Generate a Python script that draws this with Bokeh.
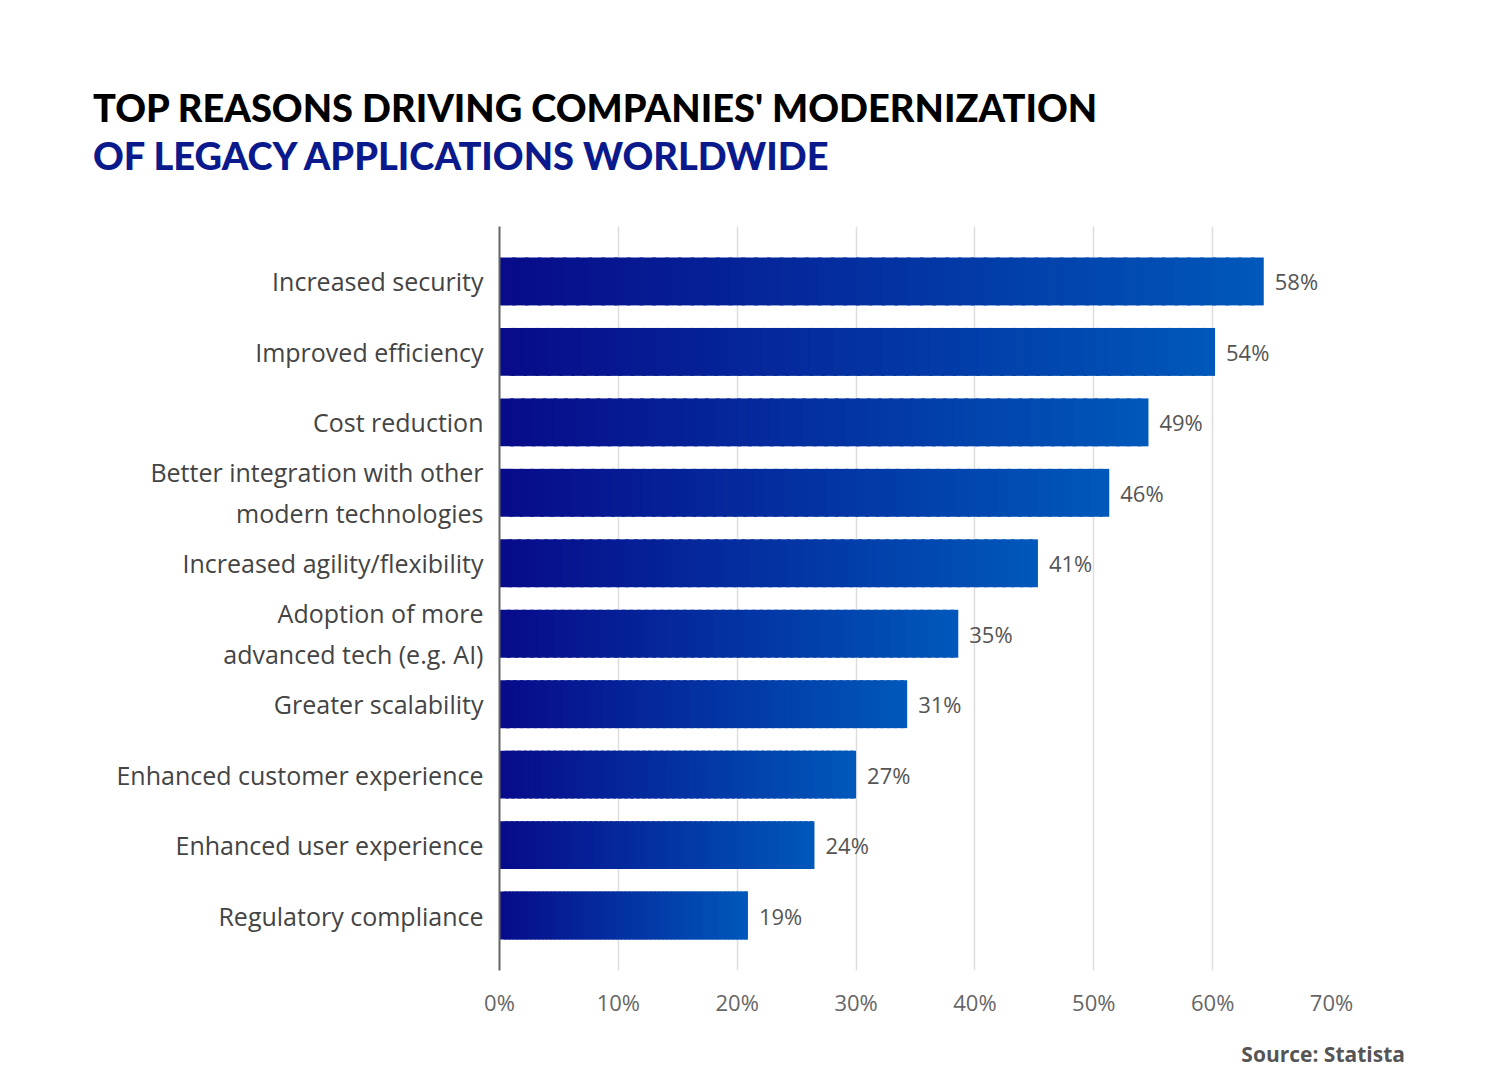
import numpy as np
from bokeh.plotting import figure
from bokeh.models import FixedTicker, Range1d, Div
from bokeh.layouts import column
from bokeh.core.properties import value
from bokeh.embed import file_html
from bokeh.resources import INLINE

categories = ["Increased security", "Improved efficiency", "Cost reduction",
              "Better integration with other\nmodern technologies", "Increased agility/flexibility",
              "Adoption of more\nadvanced tech (e.g. AI)", "Greater scalability",
              "Enhanced customer experience", "Enhanced user experience", "Regulatory compliance"]
label_values = [58, 54, 49, 46, 41, 35, 31, 27, 24, 19]
# bar lengths as drawn against the axis in the picture
bar_lengths = [64.3, 60.2, 54.6, 51.3, 45.3, 38.6, 34.3, 30.0, 26.5, 20.9]
x_ticks = [0, 10, 20, 30, 40, 50, 60, 70]

W = 1484
title = Div(width=W, height=160, text=(
    "<div style='padding-left:88px;padding-top:78px;font-family:Lato;font-weight:900;"
    "font-size:38px;line-height:48px;white-space:nowrap;'>"
    "<span style='color:#000'>TOP REASONS DRIVING COMPANIES' MODERNIZATION</span><br>"
    "<span style='color:#0a1a8c'>OF LEGACY APPLICATIONS WORLDWIDE</span></div>"))

p = figure(width=W, height=864, output_backend="svg", toolbar_location=None,
           x_range=Range1d(0, 70), y_range=Range1d(9.78, -0.78),
           min_border_left=499, min_border_right=153, min_border_top=56, min_border_bottom=64)
p.outline_line_color = None

c0 = np.array([0x08, 0x0c, 0x8a]); c1 = np.array([0x00, 0x58, 0xba])
N = 60
for i, L in enumerate(bar_lengths):
    edges = np.linspace(0, L, N + 1)
    cols = ["#%02x%02x%02x" % tuple((c0 + (c1 - c0) * t).astype(int)) for t in np.linspace(0, 1, N)]
    rights = np.minimum(edges[1:] + 0.3, L)
    p.quad(left=edges[:-1], right=rights, bottom=[i + 0.34] * N, top=[i - 0.34] * N,
           fill_color=cols, line_color=None)

p.text(x=bar_lengths, y=list(range(10)), text=[f"{v}%" for v in label_values],
       x_offset=11, text_baseline="middle", text_font=value("Open Sans"),
       text_font_size="22px", text_color="#555555")

p.xaxis.ticker = FixedTicker(ticks=x_ticks)
p.xaxis.major_label_overrides = {t: f"{t}%" for t in x_ticks}
p.xaxis.axis_line_color = None
p.xaxis.major_tick_line_color = None
p.xaxis.minor_tick_line_color = None
p.xaxis.major_label_text_font = "Open Sans"
p.xaxis.major_label_text_font_size = "22px"
p.xaxis.major_label_text_color = "#666666"
p.xaxis.major_label_standoff = 10

p.yaxis.ticker = FixedTicker(ticks=list(range(10)))
p.yaxis.major_label_overrides = {i: c for i, c in enumerate(categories)}
p.yaxis.axis_line_color = "#666666"
p.yaxis.axis_line_width = 2
p.yaxis.major_tick_line_color = None
p.yaxis.minor_tick_line_color = None
p.yaxis.major_label_text_font = "Open Sans"
p.yaxis.major_label_text_font_size = "25px"
p.yaxis.major_label_text_color = "#444444"
p.yaxis.major_label_standoff = 10

p.xgrid.grid_line_color = "#dddddd"
p.xgrid.grid_line_width = 1.5
p.ygrid.grid_line_color = None

source = Div(width=1400, height=40, text=(
    "<div style='width:1400px;text-align:right;font-family:\"Open Sans\";font-weight:bold;"
    "font-size:21px;color:#555;'>Source: Statista</div>"))

layout = column(title, p, source, spacing=0)
open("out.html", "w").write(file_html(layout, INLINE))
